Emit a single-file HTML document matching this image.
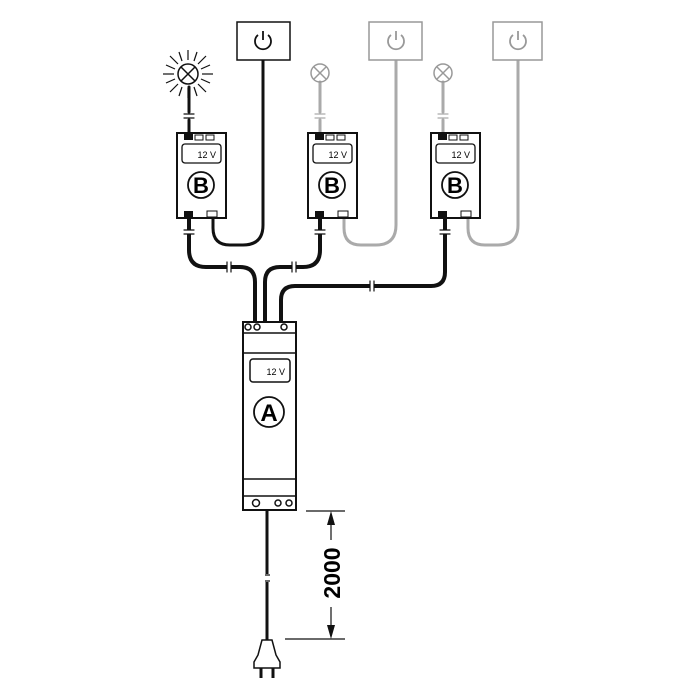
<!DOCTYPE html>
<html><head><style>body{margin:0;background:#fff}svg{display:block}</style></head><body>
<svg width="700" height="700" viewBox="0 0 700 700" xmlns="http://www.w3.org/2000/svg" font-family="Liberation Sans, sans-serif">
<g fill="none" stroke-linecap="round">
<!-- lower wires -->
<path d="M189 218 V250 Q189 267 206 267 H240 Q255 267 255 282 V322" stroke="#111" stroke-width="4"/>
<path d="M320 218 V250 Q320 267 303 267 H280 Q265 267 265 282 V322" stroke="#111" stroke-width="4"/>
<path d="M445 218 V272 Q445 286 431 286 H295 Q281 286 281 300 V322" stroke="#111" stroke-width="4"/>
<!-- breaks -->
<g stroke="#fff" stroke-width="4"><line x1="229" y1="262" x2="229" y2="272"/><line x1="294" y1="262" x2="294" y2="272"/><line x1="372" y1="281" x2="372" y2="291"/>
<line x1="184" y1="232" x2="194" y2="232"/><line x1="315" y1="232" x2="325" y2="232"/><line x1="440" y1="232" x2="450" y2="232"/>
<line x1="184" y1="116" x2="194" y2="116"/><line x1="315" y1="116" x2="325" y2="116"/><line x1="438" y1="116" x2="448" y2="116"/></g>
<g stroke="#111" stroke-width="1.2"><line x1="227" y1="262" x2="227" y2="272"/><line x1="231" y1="262" x2="231" y2="272"/><line x1="292" y1="262" x2="292" y2="272"/><line x1="296" y1="262" x2="296" y2="272"/><line x1="370" y1="281" x2="370" y2="291"/><line x1="374" y1="281" x2="374" y2="291"/>
<line x1="184" y1="230" x2="194" y2="230"/><line x1="184" y1="234" x2="194" y2="234"/><line x1="315" y1="230" x2="325" y2="230"/><line x1="315" y1="234" x2="325" y2="234"/><line x1="440" y1="230" x2="450" y2="230"/><line x1="440" y1="234" x2="450" y2="234"/>
<line x1="184" y1="114" x2="194" y2="114"/><line x1="184" y1="118" x2="194" y2="118"/></g>
<g stroke="#aaa" stroke-width="1.2"><line x1="315" y1="114" x2="325" y2="114"/><line x1="315" y1="118" x2="325" y2="118"/><line x1="438" y1="114" x2="448" y2="114"/><line x1="438" y1="118" x2="448" y2="118"/></g>
<!-- switch wires -->
<path d="M263 60 V225 Q263 245 243 245 H230 Q213 245 213 228 V218" stroke="#111" stroke-width="3"/>
<path d="M396 60 V225 Q396 245 376 245 H361 Q344 245 344 228 V218" stroke="#aaa" stroke-width="3"/>
<path d="M518 60 V225 Q518 245 498 245 H485 Q468 245 468 228 V218" stroke="#aaa" stroke-width="3"/>
<!-- lamp wires -->
<path d="M189 87 V112 M189 120 V133" stroke="#111" stroke-width="3"/>
<path d="M320 82 V112 M320 120 V133" stroke="#aaa" stroke-width="3"/>
<path d="M443 82 V112 M443 120 V133" stroke="#aaa" stroke-width="3"/>
</g>
<!-- switches -->
<g fill="#fff" stroke-width="1.5">
<rect x="237" y="22" width="53" height="38" stroke="#111"/>
<rect x="369" y="22" width="53" height="38" stroke="#999"/>
<rect x="493" y="22" width="49" height="38" stroke="#999"/>
</g>
<g fill="none" stroke-width="1.8">
<path d="M258 35 A8 8 0 1 0 268 35 M263 31 V40" stroke="#111"/>
<path d="M391 35 A8 8 0 1 0 401 35 M396 31 V40" stroke="#999"/>
<path d="M513 35 A8 8 0 1 0 523 35 M518 31 V40" stroke="#999"/>
</g>
<!-- lamps -->
<g stroke="#111" stroke-width="1.5" fill="none">
<circle cx="188" cy="74" r="10"/><path d="M181 67 L195 81 M195 67 L181 81"/>
<g stroke-width="1.2">
<line x1="188" y1="60" x2="188" y2="50"/><line x1="188" y1="88" x2="188" y2="98"/><line x1="174" y1="74" x2="163" y2="74"/><line x1="202" y1="74" x2="213" y2="74"/>
<line x1="178" y1="64" x2="170" y2="56"/><line x1="198" y1="64" x2="206" y2="56"/><line x1="178" y1="84" x2="170" y2="92"/><line x1="198" y1="84" x2="206" y2="92"/>
<line x1="182" y1="61" x2="179" y2="52"/><line x1="194" y1="61" x2="197" y2="52"/><line x1="175" y1="69" x2="166" y2="65"/><line x1="201" y1="69" x2="210" y2="65"/>
<line x1="175" y1="79" x2="166" y2="83"/><line x1="201" y1="79" x2="210" y2="83"/><line x1="182" y1="87" x2="179" y2="96"/><line x1="194" y1="87" x2="197" y2="96"/>
</g></g>
<g stroke="#999" stroke-width="1.5" fill="none">
<circle cx="320" cy="73" r="9"/><path d="M314 67 L326 79 M326 67 L314 79"/>
<circle cx="443" cy="73" r="9"/><path d="M437 67 L449 79 M449 67 L437 79"/>
</g>
<!-- B boxes -->
<g id="b">
<rect x="177" y="133" width="49" height="85" fill="#fff" stroke="#111" stroke-width="2"/>
<rect x="184" y="134" width="9" height="6" fill="#111"/>
<rect x="195" y="135" width="8" height="5" fill="none" stroke="#111"/><rect x="206" y="135" width="8" height="5" fill="none" stroke="#111"/>
<rect x="182" y="144" width="39" height="19" rx="3" fill="none" stroke="#111" stroke-width="1.3"/>
<text x="216" y="158" font-size="9" text-anchor="end">12 V</text>
<circle cx="201" cy="185" r="13" fill="none" stroke="#111" stroke-width="1.8"/>
<text x="201" y="193" font-size="22" font-weight="bold" text-anchor="middle">B</text>
<rect x="184" y="211" width="9" height="7" fill="#111"/>
<rect x="207" y="211" width="10" height="6" fill="none" stroke="#111"/>
</g>
<use href="#b" x="131"/>
<use href="#b" x="254"/>
<!-- A box -->
<rect x="243" y="322" width="53" height="188" fill="#fff" stroke="#111" stroke-width="2"/>
<g stroke="#111" stroke-width="1.5" fill="none">
<line x1="243" y1="333" x2="296" y2="333"/><line x1="243" y1="353" x2="296" y2="353"/>
<line x1="243" y1="479" x2="296" y2="479"/><line x1="243" y1="496" x2="296" y2="496"/>
<rect x="250" y="359" width="40" height="23" rx="3"/>
<circle cx="269" cy="412" r="15" stroke-width="1.8"/>
<circle cx="248" cy="327" r="3"/><circle cx="257" cy="327" r="3"/><circle cx="284" cy="327" r="3"/>
<circle cx="256" cy="503" r="3.5"/><circle cx="278" cy="503" r="3"/><circle cx="289" cy="503" r="3"/>
</g>
<text x="285" y="375" font-size="9" text-anchor="end">12 V</text>
<text x="269" y="421" font-size="24" font-weight="bold" text-anchor="middle">A</text>
<!-- cord -->
<path d="M267 510 V574 M267 582 V640" stroke="#111" stroke-width="3"/>
<path d="M265 575 H270 M265 581 H270" stroke="#111" stroke-width="1.2"/>
<path d="M262 640 H272 L276 655 L280 662 V668 H254 V662 L258 655 Z" fill="#fff" stroke="#111" stroke-width="1.5"/>
<path d="M261 668 V678 M273 668 V678" stroke="#111" stroke-width="3"/>
<!-- dimension -->
<g stroke="#111" stroke-width="1.2">
<line x1="306" y1="511" x2="345" y2="511"/><line x1="285" y1="639" x2="345" y2="639"/>
<line x1="331" y1="520" x2="331" y2="540"/><line x1="331" y1="607" x2="331" y2="630"/>
</g>
<path d="M331 511 L327 525 H335 Z M331 639 L327 625 H335 Z" fill="#111"/>
<text transform="translate(340 573) rotate(-90)" font-size="23" font-weight="bold" text-anchor="middle">2000</text>
</svg>
</body></html>
